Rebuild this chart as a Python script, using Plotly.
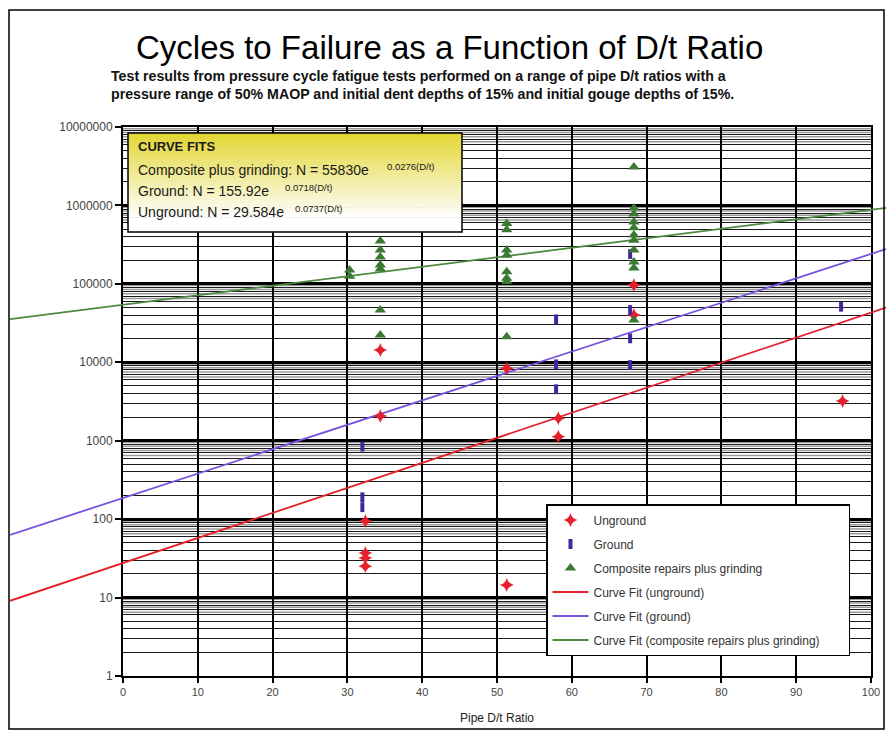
import plotly.graph_objects as go

# ---------------- data ----------------
unground_x = [32.4, 32.4, 32.4, 32.4, 34.4, 34.4, 51.3, 51.3, 58.2, 58.2, 68.3, 68.3, 96.2]
unground_y = [95, 37, 32, 25, 14300, 2070, 8380, 14.5, 1930, 1125, 96600, 40000, 3210]

ground_x = [32.0, 32.0, 32.0, 57.9, 57.9, 57.9, 67.8, 67.8, 67.8, 67.8, 96.0]
ground_y = [840, 190, 142, 35300, 9420, 4530, 240000, 46400, 20200, 9230, 51100]

composite_x = [30.3, 30.3,
               34.4, 34.4, 34.4, 34.4, 34.4, 34.4, 34.4,
               51.3, 51.3, 51.3, 51.3, 51.3, 51.3, 51.3, 51.3,
               68.3, 68.3, 68.3, 68.3, 68.3, 68.3, 68.3, 68.3, 68.3, 68.3, 68.3]
composite_y = [150000, 125000,
               352000, 271000, 220000, 174000, 155000, 46400, 22300,
               590000, 490000, 270000, 232000, 143000, 118000, 107000, 21200,
               3090000, 927000, 777000, 615000, 520000, 420000, 361000, 270000, 190000, 159000, 34600]

fit_x = [-15.1, 102.0]
fit_unground = [9.1, 49800]
fit_ground = [63, 278000]
fit_composite = [35600, 929000]

y_tickvals = [1, 10, 100, 1000, 10000, 100000, 1000000, 10000000]
y_ticktext = ["1", "10", "100", "1000", "10000", "100000", "1000000", "10000000"]
x_tickvals = [0, 10, 20, 30, 40, 50, 60, 70, 80, 90, 100]

# ---------------- geometry helpers ----------------
OFF = 8                       # page body margin
W, H = 896 - 2 * OFF, 738 - 2 * OFF
ML, MR, MT, MB = 2, 2, 2, 2
PW, PH = W - ML - MR, H - MT - MB


def fx(px):
    return (px - OFF - ML) / PW


def fy(py):
    return (OFF + H - MB - py) / PH


FONT = "Arial, Liberation Sans, sans-serif"
RED = "#E4202A"
PURPLE_M = "#43259E"
PURPLE_L = "#7A52E0"
GREEN_M = "#3C7A34"
GREEN_L = "#4E8A3E"

fig = go.Figure()

fig.add_trace(go.Scatter(x=[50], y=[100], mode="markers", marker=dict(opacity=0),
                         showlegend=False, hoverinfo="skip", xaxis="x", yaxis="y"))

fig.add_trace(go.Scatter(x=fit_x, y=fit_unground, mode="lines", name="Curve Fit (unground)",
                         line=dict(color=RED, width=1.8), xaxis="x2", yaxis="y2",
                         legendrank=4, legendgroup="g4"))
fig.add_trace(go.Scatter(x=fit_x, y=fit_ground, mode="lines", name="Curve Fit (ground)",
                         line=dict(color=PURPLE_L, width=1.8), xaxis="x2", yaxis="y2",
                         legendrank=5, legendgroup="g5"))
fig.add_trace(go.Scatter(x=fit_x, y=fit_composite, mode="lines",
                         name="Curve Fit (composite repairs plus grinding)" + "\u00a0" * 7,
                         line=dict(color=GREEN_L, width=1.8), xaxis="x2", yaxis="y2",
                         legendrank=6, legendgroup="g6"))

fig.add_trace(go.Scatter(x=unground_x, y=unground_y, mode="markers", name="Unground",
                         marker=dict(symbol="star-diamond", size=10, color=RED),
                         xaxis="x2", yaxis="y2", legendrank=1, legendgroup="g1"))
fig.add_trace(go.Scatter(x=ground_x, y=ground_y, mode="markers", name="Ground",
                         marker=dict(symbol="line-ns", size=7, color=PURPLE_M,
                                     line=dict(color=PURPLE_M, width=4)),
                         xaxis="x2", yaxis="y2", legendrank=2, legendgroup="g2"))
fig.add_trace(go.Scatter(x=composite_x, y=composite_y, mode="markers",
                         name="Composite repairs plus grinding",
                         marker=dict(symbol="triangle-up", size=10, color=GREEN_M),
                         xaxis="x2", yaxis="y2", legendrank=3, legendgroup="g3"))

x_dom = [fx(123), fx(871)]
y_dom = [fy(676), fy(127)]

minor_black = [k * 10 ** n for n in range(7) for k in range(2, 10)]

fig.update_layout(
    width=W, height=H,
    margin=dict(l=ML, r=MR, t=MT, b=MB, autoexpand=False),
    paper_bgcolor="white", plot_bgcolor="rgba(0,0,0,0)",
    font=dict(family=FONT, color="#222"),
    xaxis=dict(domain=x_dom, range=[0, 100], tickvals=x_tickvals,
               showgrid=True, gridcolor="black", gridwidth=1.5,
               showline=True, linecolor="black", linewidth=2, mirror=True,
               ticks="outside", ticklen=5, tickwidth=1.5, tickcolor="black",
               tickfont=dict(size=11, color="#444"), zeroline=False,
               title=dict(text="Pipe D/t Ratio", font=dict(size=12, color="#222"), standoff=16),
               anchor="y", automargin=False),
    yaxis=dict(domain=y_dom, type="log", range=[0, 7], tickvals=y_tickvals, ticktext=y_ticktext,
               showgrid=True, gridcolor="black", gridwidth=2.5,
               showline=True, linecolor="black", linewidth=2, mirror=True,
               ticks="outside", ticklen=6, tickwidth=1.5, tickcolor="black",
               tickfont=dict(size=12, color="#444"), zeroline=False,
               minor=dict(tickvals=minor_black, showgrid=True, gridcolor="#1a1a1a",
                          gridwidth=1, ticks=""),
               anchor="x", automargin=False),
    xaxis2=dict(domain=[0, 1], range=[(OFF + ML - 123) / 7.48, (OFF + W - MR - 123) / 7.48],
                visible=False, anchor="y2", showgrid=False),
    yaxis2=dict(domain=y_dom, type="log", range=[0, 7], visible=False, anchor="x2",
                showgrid=False),
    legend=dict(x=fx(546), y=fy(504), xanchor="left", yanchor="top",
                bgcolor="white", bordercolor="black", borderwidth=1.5,
                font=dict(size=12, color="#333"), traceorder="grouped",
                tracegroupgap=5, itemwidth=36),
    showlegend=True,
)

shapes = []
# fine grey gridlines near the top of each decade (appear as grey bands)
for n in range(7):
    for k in (6.5, 7.5, 8.5, 9.5):
        v = k * 10 ** n
        shapes.append(dict(type="line", xref="x", yref="y", x0=0, x1=100, y0=v, y1=v,
                           line=dict(color="#9a9a9a", width=1.5), layer="below"))
# outer frame
shapes.append(dict(type="rect", xref="paper", yref="paper", x0=fx(9), x1=fx(884),
                   y0=fy(729), y1=fy(10), line=dict(color="black", width=1.5), layer="above"))

# curve-fit box with vertical gradient (bands)
bx0, bx1, by0, by1 = 128, 462, 133, 232
nb = 40
top = (226, 214, 52)
for i in range(nb):
    t = i / (nb - 1)
    c = tuple(int(round(top[k] + (255 - top[k]) * min(1, t * 1.15))) for k in range(3))
    ya = by0 + (by1 - by0) * i / nb
    yb = by0 + (by1 - by0) * (i + 1) / nb
    shapes.append(dict(type="rect", xref="paper", yref="paper", x0=fx(bx0), x1=fx(bx1),
                       y0=fy(yb + 0.6), y1=fy(ya), line=dict(width=0),
                       fillcolor="rgb(%d,%d,%d)" % c, layer="above"))
shapes.append(dict(type="rect", xref="paper", yref="paper", x0=fx(bx0), x1=fx(bx1),
                   y0=fy(by1), y1=fy(by0), line=dict(color="black", width=1.5), layer="above"))
fig.update_layout(shapes=shapes)

ann = []
ann.append(dict(text="Cycles to Failure as a Function of D/t Ratio", xref="paper", yref="paper",
                x=fx(449), y=fy(47), xanchor="center", yanchor="middle", showarrow=False,
                font=dict(size=33, color="black", family=FONT)))
ann.append(dict(text="<b>Test results from pressure cycle fatigue tests performed on a range of pipe D/t ratios with a</b>",
                xref="paper", yref="paper", x=fx(109), y=fy(76), xanchor="left", yanchor="middle",
                showarrow=False, font=dict(size=14.2, color="#111")))
ann.append(dict(text="<b>pressure range of 50% MAOP and initial dent depths of 15% and initial gouge depths of 15%.</b>",
                xref="paper", yref="paper", x=fx(109), y=fy(94), xanchor="left", yanchor="middle",
                showarrow=False, font=dict(size=14.2, color="#111")))

box_lines = [("<b>CURVE FITS</b>", 146, 13),
             ("Composite plus grinding: N = 55830e", 170, 14),
             ("Ground: N = 155.92e", 191, 14),
             ("Unground: N = 29.584e", 212, 14)]
for txt, yy, sz in box_lines:
    ann.append(dict(text=txt, xref="paper", yref="paper", x=fx(136), y=fy(yy),
                    xanchor="left", yanchor="middle", showarrow=False,
                    font=dict(size=sz, color="#1a1a1a")))
sups = [("0.0276(D/t)", 385, 166), ("0.0718(D/t)", 283, 187), ("0.0737(D/t)", 293, 208)]
for txt, xx, yy in sups:
    ann.append(dict(text=txt, xref="paper", yref="paper", x=fx(xx), y=fy(yy),
                    xanchor="left", yanchor="middle", showarrow=False,
                    font=dict(size=9.5, color="#1a1a1a")))
fig.update_layout(annotations=ann)

fig.write_html("out.html")
